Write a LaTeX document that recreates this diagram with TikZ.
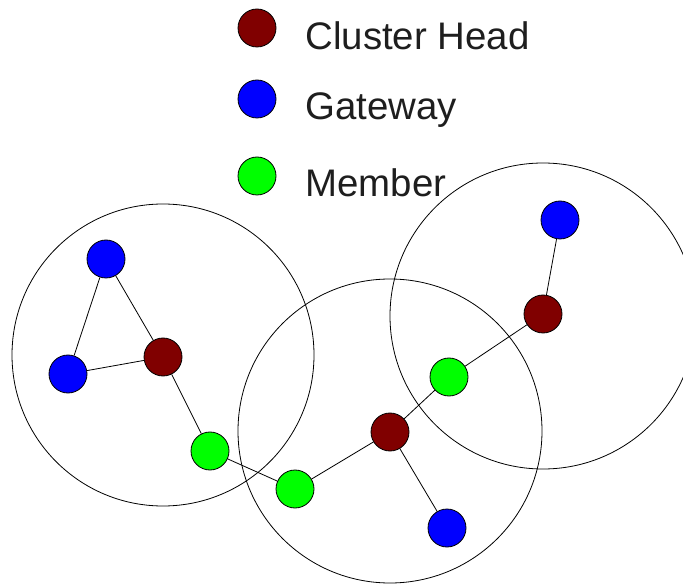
\documentclass[tikz,border=0pt]{standalone}
\usepackage{fontspec}
\setmainfont{Liberation Sans}
\usepackage{tikz}
\definecolor{chred}{RGB}{128,0,0}
\definecolor{gwblue}{RGB}{0,0,255}
\definecolor{mgreen}{RGB}{0,255,0}
\definecolor{txtgray}{RGB}{30,30,30}
\tikzset{
    dev/.style={draw, circle, inner sep=0pt, minimum size=38pt, line width=0.8pt},
    head/.style={dev, fill=chred},
    gate/.style={dev, fill=gwblue},
    memb/.style={dev, fill=mgreen},
    legtext/.style={anchor=base west, inner sep=0pt, text=txtgray},
}

\begin{document}
\begin{tikzpicture}[x=1pt, y=-1pt, line width=0.8pt, font=\fontsize{38.4}{46}\selectfont]
    \useasboundingbox (0, 0) rectangle (683, 585);

    \draw (163, 355) circle[radius=151pt];
    \draw (390, 431) circle[radius=152pt];
    \draw (543, 316) circle[radius=153pt];

    \node (legch) [head] at (257, 28) {};
    \node (leggw) [gate] at (257, 99) {};
    \node (legm) [memb] at (257, 176) {};
    \node (lblch) [legtext] at (305, 50) {Cluster Head};
    \node (lblgw) [legtext] at (305, 120) {Gateway};
    \node (lblm) [legtext] at (305, 197) {Member};

    \node (gw1) [gate] at (106, 259) {};
    \node (gw2) [gate] at (68, 374) {};
    \node (ch1) [head] at (163, 357) {};
    \node (m1) [memb] at (210, 451) {};
    \node (m2) [memb] at (295, 489) {};
    \node (ch2) [head] at (390, 432) {};
    \node (gw3) [gate] at (447, 528) {};
    \node (m3) [memb] at (449, 377) {};
    \node (ch3) [head] at (543, 314) {};
    \node (gw4) [gate] at (560, 220) {};

    \draw (gw1) -- (gw2);
    \draw (gw1) -- (ch1);
    \draw (gw2) -- (ch1);
    \draw (ch1) -- (m1);
    \draw (m1) -- (m2);
    \draw (m2) -- (ch2);
    \draw (ch2) -- (gw3);
    \draw (ch2) -- (m3);
    \draw (m3) -- (ch3);
    \draw (ch3) -- (gw4);
\end{tikzpicture}
\end{document}
